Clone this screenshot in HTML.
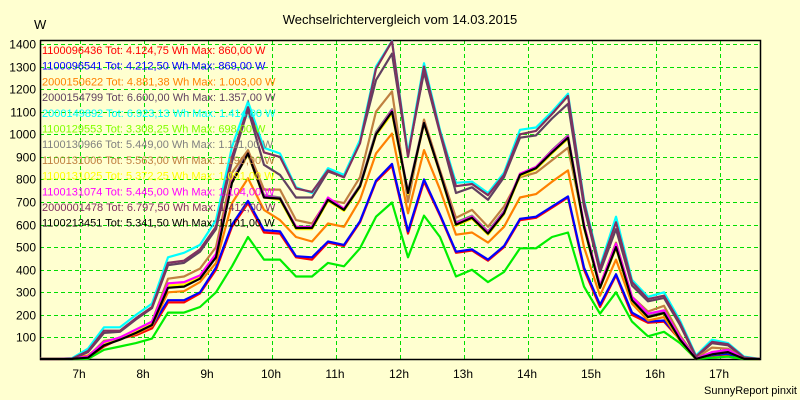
<!DOCTYPE html>
<html><head><meta charset="utf-8"><style>
body{margin:0;background:#ffffd0;}
svg{display:block;font-family:"Liberation Sans",sans-serif;}
</style></head><body>
<svg id="chart" width="800" height="400">
<rect width="800" height="400" fill="#ffffd0"/>
<text x="400" y="24" text-anchor="middle" font-size="13">Wechselrichtervergleich vom 14.03.2015</text>
<text x="34" y="29" font-size="13">W</text>
<text x="797" y="394" text-anchor="end" font-size="11">SunnyReport pinxit</text>
<g id="grid"></g><g id="axes"></g><g id="lines"></g><g id="legend"></g>
</svg>
<script>
const hours=[7,8,9,10,11,12,13,14,15,16,17];
const yTicks=[100,200,300,400,500,600,700,800,900,1000,1100,1200,1300,1400];
const startHour=6.375, stepHour=0.25;
const names=["1100096436","1100096541","2000150622","2000154799","2000149892","1100129553","1100130966","1100131006","1100131025","1100131074","2000001478","1100213451"];
const totals=["4.124,75","4.212,50","4.881,38","6.600,00","6.923,13","3.308,25","5.449,00","5.563,00","5.372,25","5.445,00","6.797,50","5.341,50"];
const maxes=["860,00","869,00","1.003,00","1.357,00","1.414,00","698,00","1.111,00","1.190,00","1.091,00","1.104,00","1.412,00","1.101,00"];
const colors=["#ff0000","#0000ff","#ff8000","#604060","#00ffff","#00ee00","#808080","#c08040","#ffff00","#ff00ff","#803060","#000000"];
const textColors=["#ff0000","#0000ff","#ff8000","#604060","#00ffff","#80ff00","#808080","#c08040","#ffff00","#ff00ff","#803060","#000000"];
const sRed=[0,0,3,10,60,95,110,140,255,255,295,400,590,695,565,560,455,445,520,505,610,790,860,560,790,640,475,485,440,500,620,630,675,720,400,235,375,200,165,170,90,0,20,25,5,0];
const sBlue=[0,0,3,12,70,100,115,150,265,265,300,410,600,705,575,570,460,455,525,510,615,795,869,570,800,645,480,490,445,505,625,635,680,725,410,245,380,210,170,175,95,2,22,28,5,0];
const sOrange=[0,0,8,20,75,95,115,150,300,305,345,430,695,805,665,620,545,525,605,590,710,915,1003,650,930,755,555,565,520,590,720,735,790,840,500,285,445,250,175,190,85,3,35,40,5,0];
const sDark=[0,0,5,35,120,125,180,230,420,430,480,580,880,1110,865,820,720,720,835,810,965,1240,1357,910,1275,1005,740,765,710,810,985,995,1070,1135,680,390,580,330,260,275,155,12,75,65,10,0];
const sCyan=[0,0,8,50,145,145,200,250,455,475,510,620,945,1145,940,915,765,740,850,820,975,1300,1414,915,1315,1020,785,790,740,830,1020,1030,1100,1180,710,415,635,355,280,300,175,20,90,75,15,0];
const sGreen=[0,0,0,5,45,60,75,95,210,210,235,300,415,545,445,445,370,370,430,415,495,635,698,455,640,545,370,400,345,390,495,495,545,565,325,205,300,170,105,125,75,0,10,15,2,0];
const sGray=[0,0,5,12,70,92,125,160,325,330,365,460,795,925,730,720,590,590,715,670,775,1010,1111,745,1060,835,610,640,570,660,825,855,930,995,595,325,505,270,195,212,95,5,28,38,6,0];
const sTan=[0,0,5,15,85,95,130,170,360,370,405,500,830,930,755,755,620,605,710,695,810,1100,1190,700,1065,840,630,665,590,680,810,830,885,940,600,330,520,280,215,240,110,8,55,50,8,0];
const sYellow=[0,0,5,12,72,95,130,165,330,335,368,462,790,910,720,710,580,580,705,660,765,995,1091,735,1045,825,595,625,555,645,815,845,915,980,585,318,495,262,188,205,88,4,25,35,5,0];
const sMagenta=[0,0,6,15,80,100,135,170,340,345,375,470,790,915,725,715,590,590,720,670,770,1000,1104,740,1050,830,605,635,565,655,825,855,925,990,600,330,515,280,205,220,100,6,35,45,8,0];
const sMaroon=[0,0,5,40,130,130,185,235,430,440,490,590,900,1120,920,900,760,745,840,810,960,1290,1412,900,1300,1010,770,780,730,820,1000,1015,1090,1170,700,405,610,345,270,285,165,15,80,70,12,0];
const sBlack=[0,0,5,10,65,90,120,155,320,325,360,455,785,915,720,715,585,585,710,665,770,1000,1100,740,1050,830,600,630,560,650,820,850,920,985,590,320,500,265,190,208,90,5,25,35,5,0];
const series=[sRed,sBlue,sOrange,sDark,sCyan,sGreen,sGray,sTan,sYellow,sMagenta,sMaroon,sBlack];

const NS="http://www.w3.org/2000/svg";
const L=40,R=760,T=40,B=359;
function xScale(h){return 80+(h-7)*64;}
function yScale(v){return Math.min(B,360-v*0.2257);}
function mk(tag,attrs,parent){const e=document.createElementNS(NS,tag);for(const k in attrs)e.setAttribute(k,attrs[k]);parent.appendChild(e);return e;}
const grid=document.getElementById('grid'),axes=document.getElementById('axes'),lines=document.getElementById('lines'),legend=document.getElementById('legend');
yTicks.forEach(v=>{
  const y=Math.round(yScale(v))+0.5;
  const g=mk('line',{x1:L,x2:R,y1:y,y2:y,stroke:'#00dd00','stroke-dasharray':'4,3','stroke-width':1},grid);
  
  
  const t=mk('text',{x:36,y:y+4,'text-anchor':'end','font-size':12},axes);
  t.textContent=v;
  
  
});
hours.forEach(h=>{
  const x=Math.round(xScale(h))+0.5;
  const g=mk('line',{x1:x,x2:x,y1:T,y2:B,stroke:'#00dd00','stroke-dasharray':'4,3','stroke-width':1},grid);
  
  
  const t=mk('text',{x:xScale(h)-1,y:378,'text-anchor':'middle','font-size':12},axes);
  t.textContent=h+'h';
  
  
});
const frame=mk('path',{d:`M${L+0.5},${T}V${B+0.5}H${R+0.5}V${T+0.5}H${L}`,fill:'none',stroke:'#000','stroke-width':1.5},axes);


series.forEach((s,si)=>{
  const pts=s.map((v,i)=>xScale(startHour+i*stepHour).toFixed(1)+','+yScale(v).toFixed(1)).join(' ');
  const p=mk('polyline',{points:pts,fill:'none',stroke:colors[si],'stroke-width':2.2,'stroke-linejoin':'round'},lines);
  
  
});
names.forEach((n,i)=>{
  const t=mk('text',{x:42,y:54+i*15.7,'font-size':11,fill:textColors[i]},legend);
  t.textContent=n+' Tot: '+totals[i]+' Wh Max: '+maxes[i]+' W';
  
  
});
</script>
</body></html>
